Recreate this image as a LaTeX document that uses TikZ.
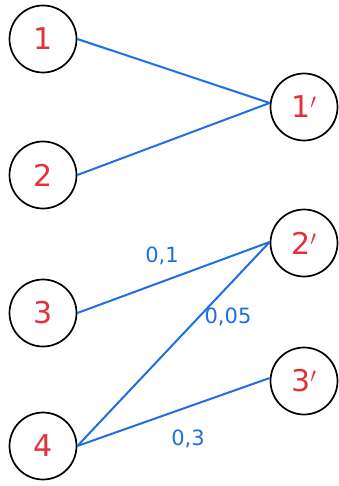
\documentclass[tikz,border=0pt]{standalone}
\usepackage{fontspec}
\setmainfont{DejaVu Sans}
\definecolor{nred}{RGB}{228,48,58}
\definecolor{eblue}{RGB}{30,110,228}
\begin{document}
\begin{tikzpicture}[x=1pt,y=-1pt,
  vert/.style={circle,draw=black,line width=1.7pt,minimum size=67pt,inner sep=0pt,text=nred,font=\fontsize{30}{30}\selectfont},
  edge/.style={draw=eblue,line width=2pt},
  wlab/.style={text=eblue,font=\fontsize{21}{21}\selectfont,inner sep=0pt}]
\useasboundingbox (0,0) rectangle (339,486);
\node[vert] (n1) at (43,39) {1};
\node[vert] (n2) at (43,175) {2};
\node[vert] (n3) at (43,313) {3};
\node[vert] (n4) at (43,446) {4};
\node[vert] (m1) at (304,107) {1$'$};
\node[vert] (m2) at (304,243) {2$'$};
\node[vert] (m3) at (304,381) {3$'$};
\draw[edge] (n1.east) -- ([yshift=4pt]m1.west);
\draw[edge] (n2.east) -- ([yshift=4pt]m1.west);
\draw[edge] (n3.east) -- ([yshift=1pt]m2.west);
\draw[edge] (n4.east) -- ([yshift=1pt]m2.west);
\draw[edge] (n4.east) -- ([yshift=3pt]m3.west);
\node[wlab] (l1) at (162,256) {0,1};
\node[wlab] (l2) at (228,317) {0,05};
\node[wlab] (l3) at (188,439) {0,3};
\end{tikzpicture}
\end{document}
